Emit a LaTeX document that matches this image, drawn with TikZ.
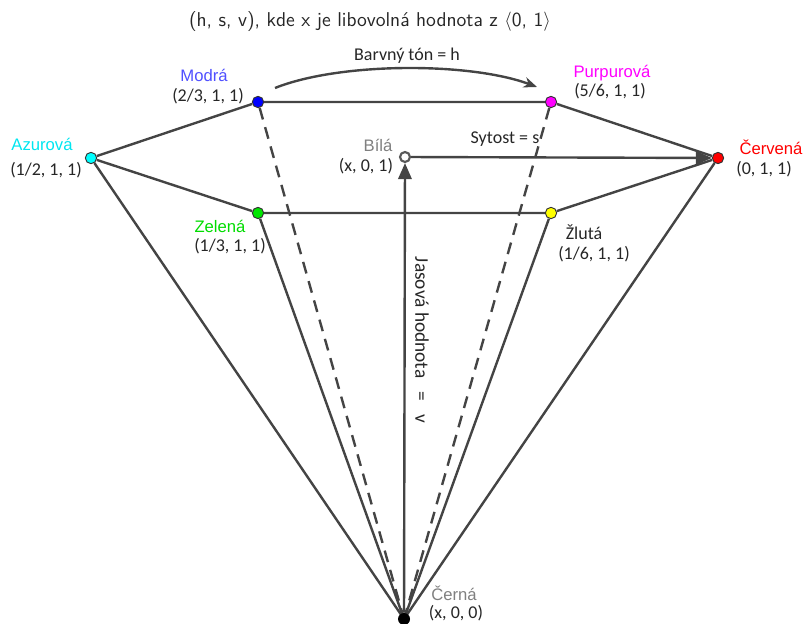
\documentclass[tikz,border=0pt]{standalone}
\usepackage{fontspec}
\setmainfont{Liberation Sans}
\newfontfamily\calfont{Carlito}
\definecolor{edgegray}{RGB}{68,68,68}
\definecolor{labelblue}{RGB}{80,80,255}
\definecolor{labelgreen}{RGB}{0,220,0}
\definecolor{labelcyan}{RGB}{0,230,240}
\definecolor{dotmagenta}{RGB}{255,0,255}
\definecolor{dotcyan}{RGB}{0,255,255}
\definecolor{dotgreen}{RGB}{0,230,0}
\definecolor{dotblue}{RGB}{0,0,255}
\definecolor{dotred}{RGB}{255,0,0}
\definecolor{dotyellow}{RGB}{255,255,0}
\usetikzlibrary{arrows.meta, backgrounds}

\begin{document}
\begin{tikzpicture}[x=0.75pt, y=-0.75pt,
    edge/.style={draw=edgegray, line width=1.8pt},
    dashedge/.style={edge, dash pattern=on 9pt off 6pt},
    axisarrow/.style={edge, -{Triangle[length=12pt, width=10pt]}},
    dot/.style={circle, draw=black!80, line width=0.7pt, inner sep=0pt, minimum size=8.5pt},
    colname/.style={font=\fontsize{12.5}{14}\selectfont},
    coord/.style={font=\calfont\fontsize{13.5}{15}\selectfont, text=black!85},
    note/.style={font=\calfont\fontsize{13.5}{15}\selectfont, text=black!85}]
    \useasboundingbox (0,0) rectangle (803,624);

    % vertices of the hexcone
    \node[dot, fill=dotblue] (modra) at (258,102) {};
    \node[dot, fill=dotmagenta] (purpur) at (551,102) {};
    \node[dot, fill=dotcyan] (azur) at (91,158) {};
    \node[dot, fill=dotred] (cervena) at (718,158) {};
    \node[dot, fill=dotgreen] (zelena) at (258,213) {};
    \node[dot, fill=dotyellow] (zluta) at (551,213) {};
    \node[circle, draw=black!65, fill=white, line width=1.6pt, inner sep=0pt, minimum size=7.5pt] (bila) at (405,157) {};
    \node[circle, fill=black, inner sep=0pt, minimum size=9pt] (cerna) at (404,619) {};

    \begin{scope}[on background layer]
        \draw[edge] (azur) -- (modra) -- (purpur) -- (cervena);
        \draw[edge] (azur) -- (zelena) -- (zluta) -- (cervena);
        \draw[edge] (azur) -- (cerna.center);
        \draw[edge] (zelena) -- (cerna.center);
        \draw[edge] (zluta) -- (cerna.center);
        \draw[edge] (cervena) -- (cerna.center);
        \draw[dashedge] (modra) -- (cerna.center);
        \draw[dashedge] (purpur) -- (cerna.center);
    \end{scope}

    % value and saturation axes
    \draw[axisarrow] (cerna) -- (bila);
    \begin{scope}[on background layer]
        \draw[axisarrow] (bila) -- (cervena);
    \end{scope}

    % hue arc
    \coordinate (hstart) at (275,88);
    \coordinate (hend) at (537,87);
    \draw[edge, -{Stealth[length=10pt, width=8pt]}] (hstart) .. controls (340,62) and (470,62) .. (hend);

    % labels
    \node[font=\sffamily\fontsize{15}{17}\selectfont, text=black!85] (title) at (370,22)
        {(h, s, v), kde x je libovolná hodnota z $\langle$0, 1$\rangle$};
    \node[note] (hue) at (407,56) {Barvný tón = h};
    \node[note] (sat) at (505,139) {Sytost = s};
    \node[note, font=\calfont\fontsize{14.5}{16}\selectfont, rotate=-90] (val) at (422,340) {Jasová hodnota \ \ = \ \ v};

    \node[colname, text=labelblue] (modraname) at (204,75) {Modrá};
    \node[coord] (modracoord) at (208,96) {(2/3, 1, 1)};
    \node[colname, text=dotmagenta] (purpurname) at (612,73) {Purpurová};
    \node[coord] (purpurcoord) at (610,91) {(5/6, 1, 1)};
    \node[colname, text=labelcyan] (azurname) at (42,144) {Azurová};
    \node[coord] (azurcoord) at (46,170) {(1/2, 1, 1)};
    \node[colname, text=dotred] (cervenaname) at (771,147) {Červená};
    \node[coord] (cervenacoord) at (764,169) {(0, 1, 1)};
    \node[colname, text=gray] (bilaname) at (378,145) {Bílá};
    \node[coord] (bilacoord) at (366,166) {(x, 0, 1)};
    \node[colname, text=labelgreen] (zelenaname) at (220,226) {Zelená};
    \node[coord] (zelenacoord) at (230,246) {(1/3, 1, 1)};
    \node[note] (zlutaname) at (584,232) {Žlutá};
    \node[coord] (zlutacoord) at (594,254) {(1/6, 1, 1)};
    \node[colname, text=gray] (cernaname) at (454,593) {Černá};
    \node[coord] (cernacoord) at (456,613) {(x, 0, 0)};
\end{tikzpicture}
\end{document}
